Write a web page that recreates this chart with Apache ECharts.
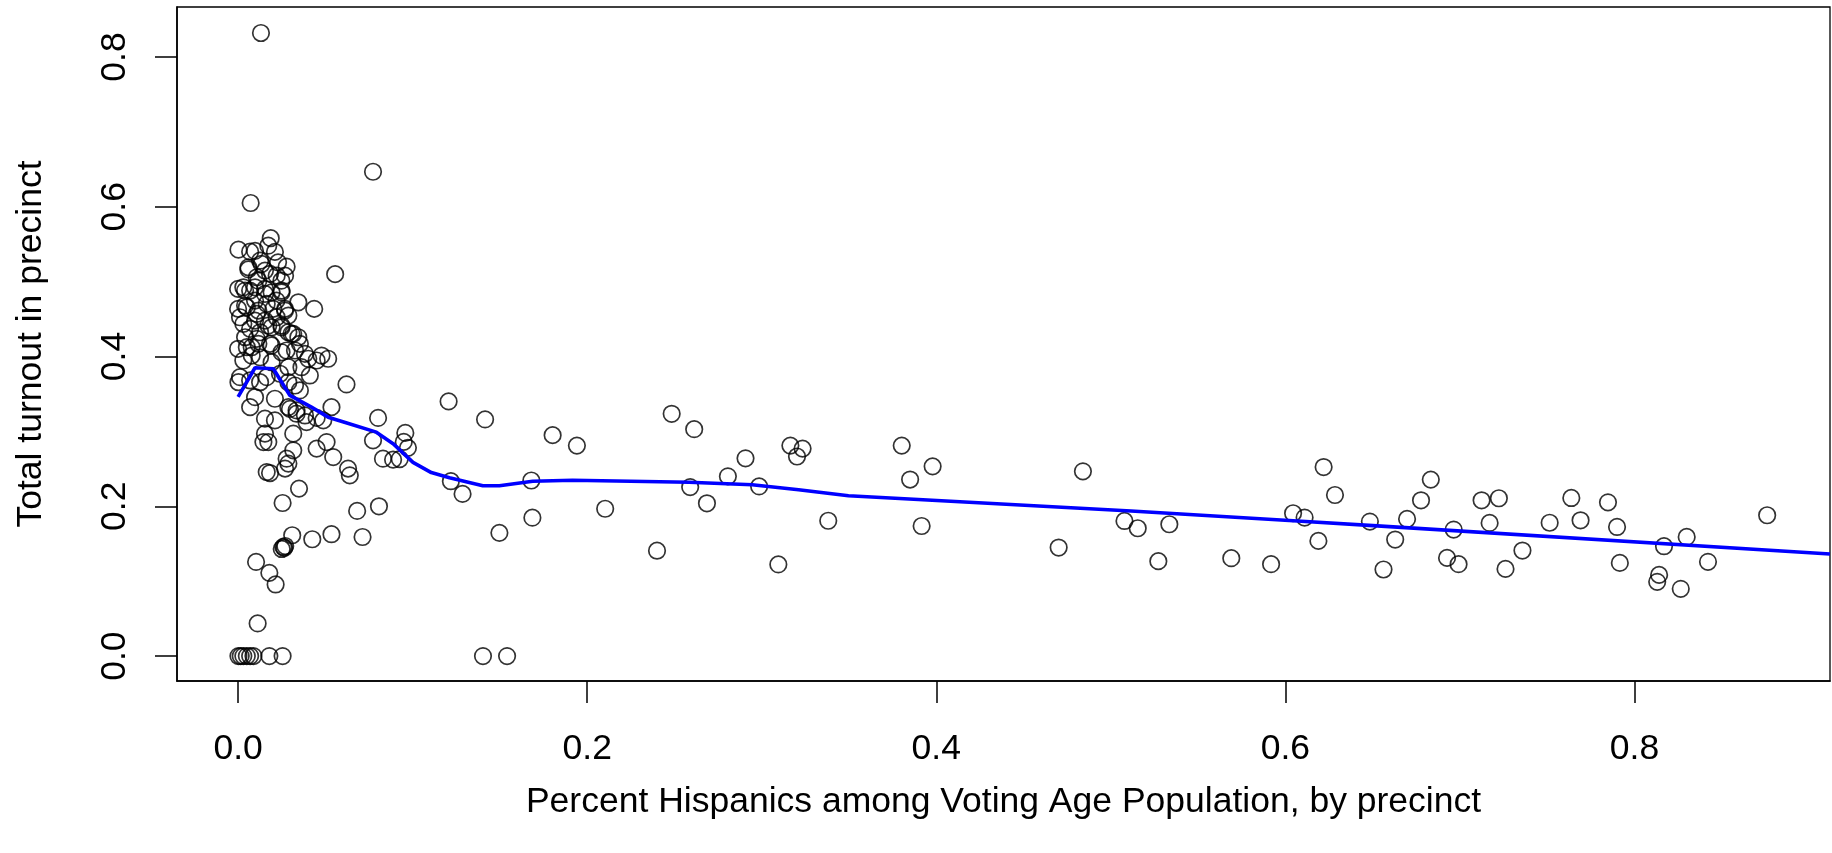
<!DOCTYPE html>
<html>
<head>
<meta charset="utf-8">
<script src="https://cdn.jsdelivr.net/npm/echarts@6/dist/echarts.min.js"></script>
<style>
html,body{margin:0;padding:0;background:#fff;}
#chart{width:1832px;height:853px;}
</style>
</head>
<body>
<div id="chart"></div>
<script>
// Percent Hispanics among VAP (x) and total turnout (y), one entry per precinct
const hispanicShare = [
  0.1206,0.1415,0.0958,0.0949,0.0973,0.0926,0.1802,0.1941,0.2484,0.2613,
  0.3164,0.3234,0.3202,0.2907,0.2806,0.2985,0.2590,0.2686,0.3802,0.3850,
  0.3381,0.1219,0.1286,0.1680,0.1686,0.1497,0.2103,0.2400,0.3095,0.1403,
  0.1541,0.3979,0.3916,0.4840,0.4701,0.5078,0.5154,0.5335,0.5272,0.5690,
  0.5918,0.6044,0.6110,0.6219,0.6284,0.6189,0.6484,0.6562,0.6629,0.6697,
  0.6777,0.6833,0.6926,0.6964,0.6992,0.7124,0.7223,0.7170,0.7261,0.7358,
  0.7514,0.7638,0.7691,0.7848,0.7900,0.7916,0.8169,0.8299,0.8141,0.8130,
  0.8265,0.8421,0.8760,
  0.0131,0.0773,0.0072,0.0556,0.0002,0.0187,0.0173,0.0097,0.0211,0.0059,
  0.0126,0.0278,0.0229,0.0154,0.0221,0.0116,0.0248,0.0000,0.0030,0.0069,
  0.0154,0.0192,0.0249,0.0345,0.0436,0.0000,0.0040,0.0097,0.0164,0.0220,
  0.0269,0.0011,0.0107,0.0154,0.0221,0.0288,0.0069,0.0126,0.0192,0.0249,
  0.0288,0.0316,0.0354,0.0000,0.0050,0.0116,0.0192,0.0278,0.0383,0.0478,
  0.0516,0.0450,0.0402,0.0030,0.0078,0.0126,0.0192,0.0288,0.0363,0.0411,
  0.0621,0.0011,0.0002,0.0069,0.0126,0.0164,0.0240,0.0288,0.0326,0.0354,
  0.0097,0.0211,0.0069,0.0288,0.0335,0.0383,0.0450,0.0535,0.0802,0.0154,
  0.0211,
  0.0069,0.0134,0.0059,0.0107,0.0183,0.0269,0.0040,0.0097,0.0154,0.0249,
  0.0050,0.0116,0.0202,0.0269,0.0030,0.0097,0.0173,0.0249,0.0306,0.0345,
  0.0040,0.0107,0.0078,0.0183,0.0249,0.0326,
  0.0297,0.0335,0.0392,0.0488,0.0316,0.0154,0.0145,0.0173,0.0773,0.0316,
  0.0450,0.0507,0.0545,0.0830,0.0888,0.0630,0.0640,0.0278,0.0288,0.0269,
  0.0164,0.0183,0.0349,0.0255,0.0682,0.0807,0.0310,0.0259,0.0250,0.0270,
  0.0265,0.0425,0.0535,0.0713,0.0103,0.0179,0.0215,0.0112,
  0.0002,0.0015,0.0030,0.0050,0.0069,0.0088,0.0179,0.0255
];
const turnout = [
  0.340,0.316,0.298,0.286,0.278,0.263,0.295,0.281,0.3235,0.303,
  0.281,0.277,0.2665,0.264,0.240,0.2265,0.2256,0.204,0.281,0.2357,
  0.1807,0.2335,0.2165,0.2344,0.1848,0.1645,0.1967,0.1407,0.1224,0.000,
  0.000,0.2533,0.1737,0.2467,0.1449,0.1804,0.1707,0.176,0.1267,0.1307,
  0.1227,0.1907,0.1849,0.2524,0.2151,0.1538,0.1796,0.1156,0.1556,0.1831,
  0.208,0.2356,0.1311,0.1689,0.1227,0.208,0.2107,0.1778,0.1164,0.1409,
  0.178,0.2111,0.1813,0.2053,0.1724,0.1244,0.1467,0.1591,0.1084,0.0991,
  0.0898,0.1258,0.188,
  0.832,0.6467,0.605,0.510,0.5427,0.558,0.548,0.541,0.5397,0.519,
  0.528,0.520,0.5257,0.5147,0.508,0.5013,0.5013,0.4903,0.4924,0.488,
  0.4903,0.4857,0.4857,0.4724,0.4636,0.4636,0.468,0.4747,0.4703,0.4747,
  0.4636,0.4524,0.457,0.448,0.4524,0.4547,0.437,0.4324,0.439,0.439,
  0.4324,0.4303,0.417,0.4103,0.4124,0.417,0.4147,0.408,0.4036,0.4013,
  0.397,0.3947,0.397,0.3947,0.4013,0.399,0.3924,0.3857,0.3857,0.3747,
  0.3627,0.3724,0.3657,0.368,0.3657,0.3724,0.377,0.3657,0.3613,0.3547,
  0.3457,0.3436,0.3324,0.3324,0.328,0.3213,0.318,0.3324,0.318,0.317,
  0.3147,
  0.540,0.5236,0.5163,0.5057,0.5103,0.508,0.488,0.4924,0.4836,0.488,
  0.4657,0.4613,0.4636,0.4613,0.4436,0.448,0.4413,0.4413,0.4303,0.4257,
  0.4257,0.4236,0.4124,0.417,0.4057,0.408,
  0.330,0.3236,0.3124,0.3147,0.297,0.297,0.2857,0.2857,0.288,0.2747,
  0.277,0.2857,0.2657,0.2636,0.2623,0.2503,0.2413,0.2636,0.257,0.2503,
  0.2457,0.2444,0.2236,0.2044,0.1938,0.200,0.1613,0.1457,0.143,0.147,
  0.1445,0.156,0.1627,0.159,0.1257,0.1111,0.0956,0.0436,
  0,0,0,0,0,0,0,0
];
// Smoothed (lowess) curve
const smoothX = [0,0.0097,0.0202,0.0297,0.042,0.0516,0.06,0.0792,0.0888,0.1002,0.1107,0.1211,0.1402,0.1497,0.1688,0.1916,0.2583,0.2945,0.3211,0.3497,0.3897,0.5116,0.6069,0.6526,0.912];
const smoothY = [0.346,0.385,0.3836,0.348,0.3324,0.319,0.313,0.299,0.2836,0.2587,0.245,0.238,0.2275,0.2275,0.2335,0.2348,0.232,0.2288,0.222,0.2141,0.209,0.1938,0.1804,0.1738,0.1362];
// Tick labels
const xTickLabels = ['0.0','0.2','0.4','0.6','0.8'];
const yTickLabels = ['0.0','0.2','0.4','0.6','0.8'];

const xTicks = xTickLabels.map(Number);
const yTicks = yTickLabels.map(Number);
const points = hispanicShare.map((x, i) => [x, turnout[i]]);
const curve = smoothX.map((x, i) => [x, smoothY[i]]);

const FONT = "'Liberation Sans', Arial, Helvetica, sans-serif";
const FS = 35.5;
const chart = echarts.init(document.getElementById('chart'), null, {renderer: 'canvas'});
chart.setOption({
  animation: false,
  backgroundColor: '#ffffff',
  grid: {left: 177, right: 2, top: 7, bottom: 172, show: true, borderColor: '#000', borderWidth: 1.3, containLabel: false},
  xAxis: {
    type: 'value', min: -0.035, max: 0.912,
    name: 'Percent Hispanics among Voting Age Population, by precinct',
    nameLocation: 'middle', nameGap: 103,
    nameTextStyle: {fontFamily: FONT, fontSize: FS, color: '#000', verticalAlign: 'top'},
    axisLine: {show: true, onZero: false, lineStyle: {color: '#000', width: 1.6}},
    axisTick: {show: true, inside: false, length: 22, customValues: xTicks, lineStyle: {color: '#000', width: 1.5}},
    axisLabel: {show: true, customValues: xTicks, margin: 50, fontFamily: FONT, fontSize: FS, color: '#000',
      formatter: v => xTickLabels[xTicks.indexOf(v)] ?? v.toFixed(1)},
    splitLine: {show: false}
  },
  yAxis: {
    type: 'value', min: -0.0333, max: 0.8667,
    name: 'Total turnout in precinct',
    nameLocation: 'middle', nameGap: 128, nameRotate: 90,
    nameTextStyle: {fontFamily: FONT, fontSize: FS, color: '#000'},
    axisLine: {show: true, onZero: false, lineStyle: {color: '#000', width: 1.6}},
    axisTick: {show: true, inside: false, length: 22, customValues: yTicks, lineStyle: {color: '#000', width: 1.5}},
    axisLabel: {show: true, customValues: yTicks, rotate: 90, margin: 44, fontFamily: FONT, fontSize: FS, color: '#000',
      formatter: v => yTickLabels[yTicks.indexOf(v)] ?? v.toFixed(1)},
    splitLine: {show: false}
  },
  series: [
    {
      type: 'scatter', data: points, symbol: 'circle', symbolSize: 16.5,
      itemStyle: {color: 'rgba(0,0,0,0)', borderColor: '#000', borderWidth: 1.7},
      emphasis: {disabled: true}, z: 2
    },
    {
      type: 'line', data: curve, showSymbol: false, smooth: false, clip: true,
      lineStyle: {color: '#0000ff', width: 3.6}, emphasis: {disabled: true}, z: 3
    }
  ]
});
</script>
</body>
</html>
